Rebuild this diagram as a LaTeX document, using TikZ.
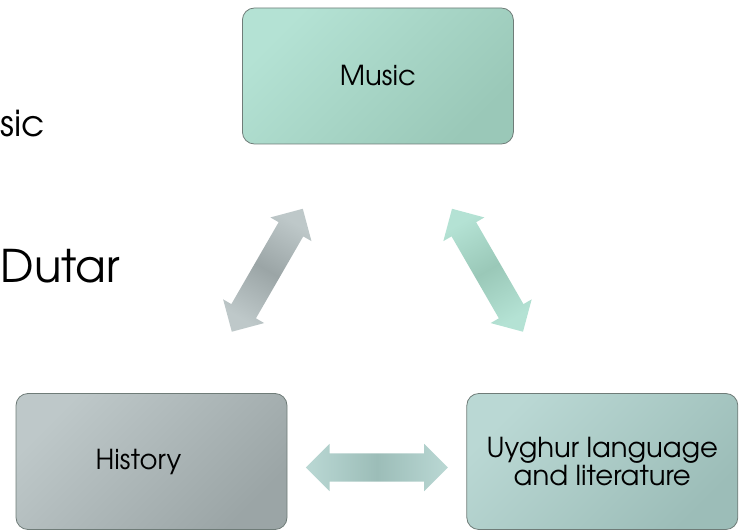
\documentclass[tikz,border=0pt]{standalone}
\usepackage{fontspec}
\setmainfont{TeX Gyre Adventor}
\usetikzlibrary{shapes.arrows, positioning, calc}

\definecolor{mintlight}{HTML}{B4E2D4}
\definecolor{mintdark}{HTML}{9AC8B8}
\definecolor{greylight}{HTML}{BEC8C9}
\definecolor{greydark}{HTML}{9BA5A6}
\definecolor{tealight}{HTML}{BAD8D4}
\definecolor{tealdark}{HTML}{9CBDB8}
\definecolor{boxline}{HTML}{6F7C78}

\tikzset{
  topic/.style n args={2}{draw=boxline, line width=0.8pt, rounded corners=12pt,
    minimum width=271pt, minimum height=136pt, align=center,
    top color=#1, bottom color=#2, shading angle=45,
    font=\fontsize{27.5}{25}\selectfont},
  link/.style n args={3}{double arrow, inner xsep=0pt, inner ysep=14pt,
    minimum height=142pt, minimum width=47pt, double arrow head extend=9.5pt,
    left color=#1, right color=#1, middle color=#2, shading angle=#3}
}

\begin{document}
\begin{tikzpicture}[x=1pt, y=1pt]
\useasboundingbox (0,0) rectangle (741,531);

% Cycle boxes
\node (history) [topic={greylight}{greydark}] at (151.5,69.5) {\hspace*{-26pt}History};
\node (uyghur) [topic={tealight}{tealdark}, right=179pt of history] {Uyghur language\\and literature};
\node (music) [topic={mintlight}{mintdark}] at ($(history)!0.5!(uyghur) + (1,385.5)$) {Music};

% Two-way links
\node (hm) [link={greylight}{greydark}{150}, rotate=60, yshift=-3pt] at ($(history)!0.5!(music)$) {};
\node (mu) [link={mintlight}{mintdark}{30}, rotate=-60, yshift=-3pt] at ($(music)!0.5!(uyghur)$) {};
\node (hu) [link={tealight}{tealdark}{90}, yshift=-6pt] at ($(history)!0.5!(uyghur)$) {};

% Slide text cut at the left edge
\node (sic) [anchor=base west, inner sep=0pt, font=\fontsize{36}{42}\selectfont] at (0.5,394) {sic};
\node (dutar) [anchor=base west, inner sep=0pt, font=\fontsize{45}{50}\selectfont] at (0.5,249) {Dutar};
\end{tikzpicture}
\end{document}
